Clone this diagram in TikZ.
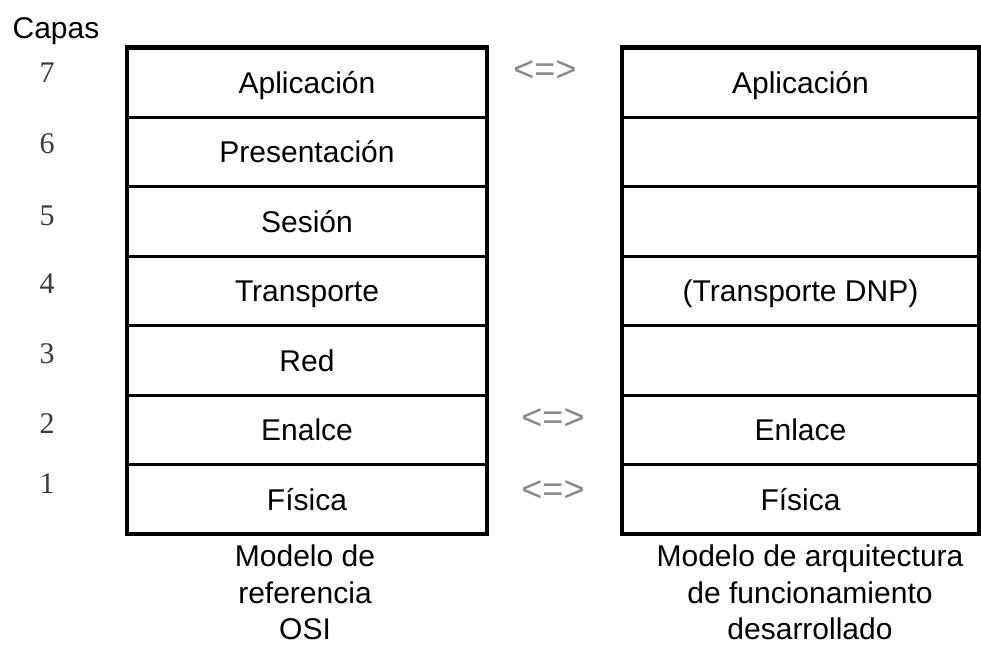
\documentclass[tikz,border=0pt]{standalone}
\usepackage{fontspec}
\setmainfont{Liberation Sans}
\newfontfamily\numfont{Liberation Serif}
\definecolor{numgray}{HTML}{3A3A3A}
\definecolor{eqgray}{HTML}{8A8A8A}
\begin{document}
\begin{tikzpicture}[x=1pt,y=-1pt,
  cell/.style={draw, line width=3pt, minimum height=69.5pt, inner sep=0pt,
    outer sep=0pt, text height=21.5pt, text depth=0pt,
    font=\fontsize{30}{36}\selectfont},
  leftcell/.style={cell, minimum width=360pt},
  rightcell/.style={cell, minimum width=357pt},
  frame/.style={draw, line width=4.5pt},
  layernum/.style={anchor=base, text=numgray, inner sep=0pt,
    font=\numfont\fontsize{30}{36}\selectfont},
  equiv/.style={text=eqgray, inner sep=0pt, font=\fontsize{36}{40}\selectfont},
  caption/.style={anchor=north, align=center, inner sep=0pt,
    font=\fontsize{30}{36.5}\selectfont}]
\useasboundingbox (0,0) rectangle (981,648);
\fill[white] (0,0) rectangle (981,648);

% column heading
\node[anchor=base, inner sep=0pt, font=\fontsize{30}{36}\selectfont] (capas) at (56,38) {Capas};

% the two stacks of layers, top (7) to bottom (1)
\foreach \n/\lt/\rt [count=\i from 0] in
  {7/Aplicación/Aplicación, 6/Presentación/, 5/Sesión/,
   4/Transporte/(Transporte DNP), 3/Red/, 2/Enalce/Enlace, 1/Física/Física}{
  \node[leftcell]  (L\n) at (307,   82.25+69.5*\i) {\lt};
  \node[rightcell] (R\n) at (800.5, 82.25+69.5*\i) {\rt};
}

% heavy outer frames
\draw[frame] (L7.north west) rectangle (L1.south east);
\draw[frame] (R7.north west) rectangle (R1.south east);

% layer numbers
\node[layernum] (n7) at (47,82)  {7};
\node[layernum] (n6) at (47,153) {6};
\node[layernum] (n5) at (47,225) {5};
\node[layernum] (n4) at (47,293) {4};
\node[layernum] (n3) at (47,363) {3};
\node[layernum] (n2) at (47,433) {2};
\node[layernum] (n1) at (47,493) {1};

% equivalence marks between the stacks
\node[equiv] (e7) at (545,71)  {<=>};
\node[equiv] (e2) at (553,419) {<=>};
\node[equiv] (e1) at (553,491) {<=>};

% captions under each stack
\node[caption] (osi) at (305,545) {Modelo de\\referencia\\OSI};
\node[caption] (arq) at (810,545) {Modelo de arquitectura\\de funcionamiento\\desarrollado};
\end{tikzpicture}
\end{document}
